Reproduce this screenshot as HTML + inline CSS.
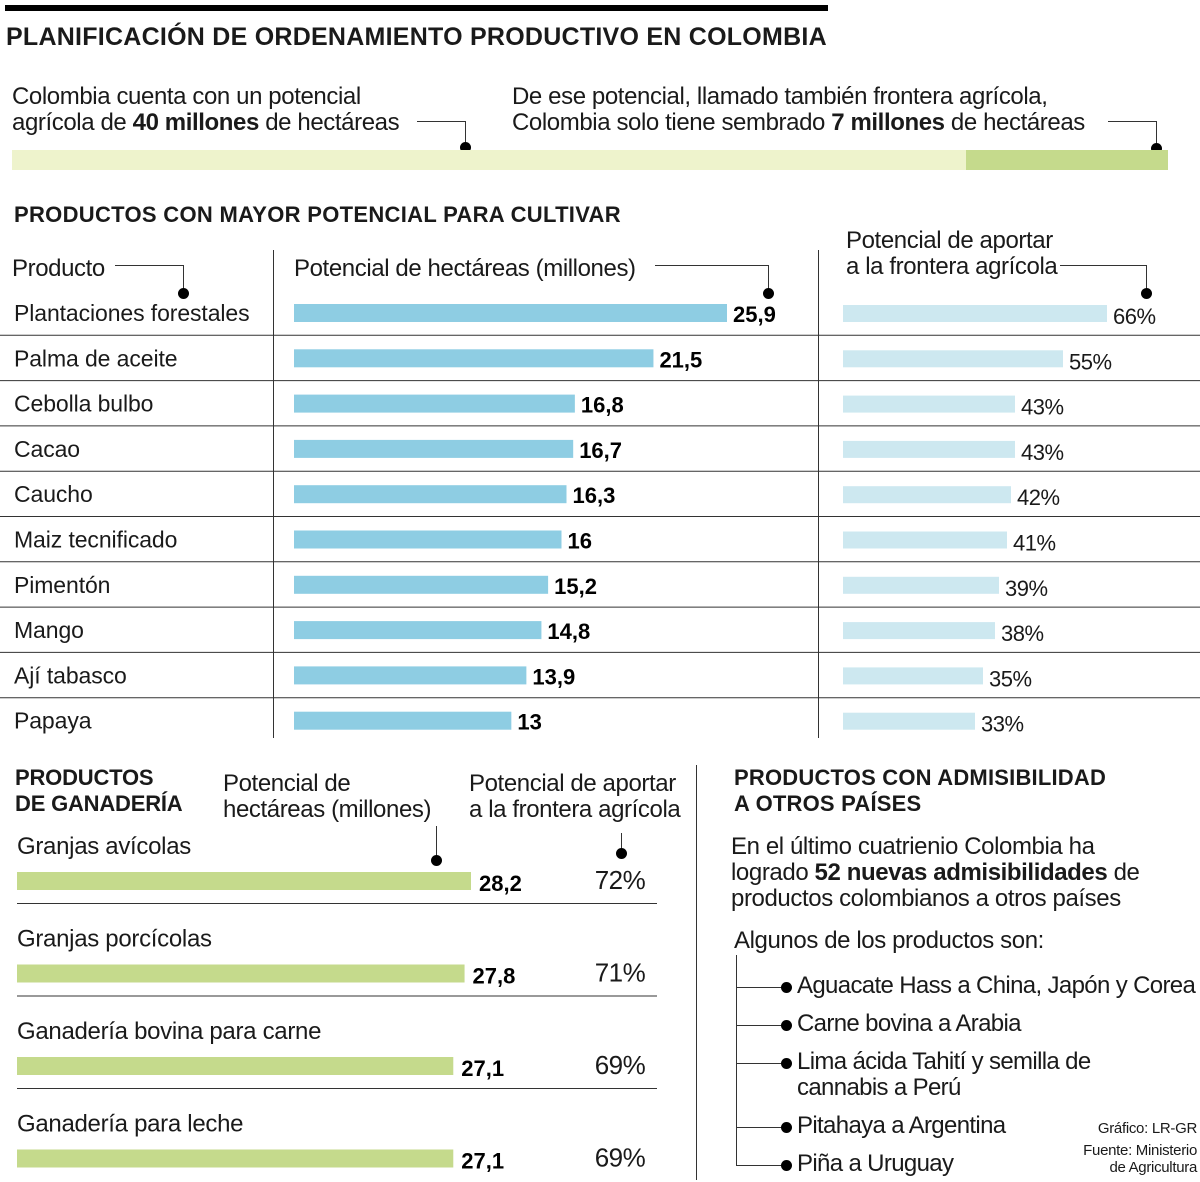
<!DOCTYPE html>
<html><head><meta charset="utf-8">
<style>
*{margin:0;padding:0;box-sizing:border-box}
body{width:1200px;height:1182px;background:#fff;position:relative;overflow:hidden;font-family:"Liberation Sans",sans-serif;color:#1a1a1a}
.a{position:absolute;white-space:nowrap}
.t{font-size:24px;line-height:26px;letter-spacing:-0.4px}
.h{font-weight:bold;font-size:23px;letter-spacing:-0.5px}
.ln{position:absolute;background:#333}
.dot{position:absolute;width:11px;height:11px;border-radius:50%;background:#000}
b{font-weight:bold}
</style></head><body>
<div class="ln" style="left:5px;top:5px;width:823px;height:6px;background:#000"></div>
<div class="a h" style="left:6px;top:23px;font-size:25px;letter-spacing:0.25px">PLANIFICACIÓN DE ORDENAMIENTO PRODUCTIVO EN COLOMBIA</div>

<div class="a t" style="left:12px;top:84px">Colombia cuenta con un potencial<br>agrícola de <b>40 millones</b> de hectáreas</div>
<div class="a t" style="left:512px;top:84px">De ese potencial, llamado también frontera agrícola,<br>Colombia solo tiene sembrado <b>7 millones</b> de hectáreas</div>
<div class="ln" style="left:417px;top:121px;width:48px;height:1px"></div>
<div class="ln" style="left:465px;top:121px;width:1px;height:24px"></div>
<div class="dot" style="left:460px;top:142px"></div>
<div class="ln" style="left:1108px;top:121px;width:49px;height:1px"></div>
<div class="ln" style="left:1156px;top:121px;width:1px;height:24px"></div>
<div class="dot" style="left:1151px;top:143px"></div>
<div class="a" style="left:12px;top:150px;width:1156px;height:20px;background:#eef3cc"></div>
<div class="a" style="left:966px;top:150px;width:202px;height:20px;background:#c5da8c"></div>

<div class="a h" style="left:14px;top:202px;font-size:22px;letter-spacing:0.3px">PRODUCTOS CON MAYOR POTENCIAL PARA CULTIVAR</div>
<div class="a t" style="left:12px;top:256px">Producto</div>
<div class="ln" style="left:115px;top:265px;width:68px;height:1px"></div>
<div class="ln" style="left:183px;top:265px;width:1px;height:25px"></div>
<div class="dot" style="left:178px;top:288px"></div>
<div class="a t" style="left:294px;top:256px">Potencial de hectáreas (millones)</div>
<div class="ln" style="left:655px;top:265px;width:113px;height:1px"></div>
<div class="ln" style="left:768px;top:265px;width:1px;height:25px"></div>
<div class="dot" style="left:763px;top:288px"></div>
<div class="a t" style="left:846px;top:228px;background:#fff">Potencial de aportar<br>a la frontera agrícola</div>
<div class="ln" style="left:1060px;top:265px;width:86px;height:1px"></div>
<div class="ln" style="left:1146px;top:265px;width:1px;height:25px"></div>
<div class="dot" style="left:1141px;top:288px"></div>
<div class="ln" style="left:273px;top:250px;width:1px;height:488px"></div>
<div class="ln" style="left:818px;top:250px;width:1px;height:488px"></div>
<svg id="crops" class="a" style="left:0;top:0" width="1200" height="760"></svg>

<div class="a h" style="left:15px;top:765px;line-height:26px;font-size:22px;letter-spacing:-0.2px">PRODUCTOS<br>DE GANADERÍA</div>
<div class="a t" style="left:223px;top:771px">Potencial de<br>hectáreas (millones)</div>
<div class="a t" style="left:469px;top:771px">Potencial de aportar<br>a la frontera agrícola</div>
<div class="ln" style="left:436px;top:826px;width:1px;height:30px"></div>
<div class="dot" style="left:431px;top:855px"></div>
<div class="ln" style="left:621px;top:833px;width:1px;height:16px"></div>
<div class="dot" style="left:616px;top:848px"></div>
<svg id="live" class="a" style="left:0;top:0" width="700" height="1182"></svg>

<div class="ln" style="left:696px;top:765px;width:1px;height:415px"></div>
<div class="a h" style="left:734px;top:765px;line-height:26px;font-size:22px;letter-spacing:0.2px">PRODUCTOS CON ADMISIBILIDAD<br>A OTROS PAÍSES</div>
<div class="a t" style="left:731px;top:834px">En el último cuatrienio Colombia ha<br>logrado <b>52 nuevas admisibilidades</b> de<br>productos colombianos a otros países</div>
<div class="a t" style="left:734px;top:928px">Algunos de los productos son:</div>
<div class="ln" style="left:736px;top:955px;width:1px;height:210px"></div>
<div id="list"></div>
<div class="a" style="left:1050px;top:1120px;font-size:15px;line-height:17px;text-align:right;width:147px;letter-spacing:-0.3px">Gráfico: LR-GR<br><span style="display:inline-block;margin-top:5px">Fuente: Ministerio<br>de Agricultura</span></div>

<script>
const crops=["Plantaciones forestales","Palma de aceite","Cebolla bulbo","Cacao","Caucho","Maiz tecnificado","Pimentón","Mango","Ají tabasco","Papaya"];
const hectares=[25.9,21.5,16.8,16.7,16.3,16,15.2,14.8,13.9,13];
const hectareLabels=["25,9","21,5","16,8","16,7","16,3","16","15,2","14,8","13,9","13"];
const frontier=[66,55,43,43,42,41,39,38,35,33];
const livestock=["Granjas avícolas","Granjas porcícolas","Ganadería bovina para carne","Ganadería para leche"];
const liveHectares=[28.2,27.8,27.1,27.1];
const liveLabels=["28,2","27,8","27,1","27,1"];
const liveFrontier=[72,71,69,69];
const exportsList=["Aguacate Hass a China, Japón y Corea","Carne bovina a Arabia","Lima ácida Tahití y semilla de|cannabis a Perú","Pitahaya a Argentina","Piña a Uruguay"];

const NS="http://www.w3.org/2000/svg";
const FF='"Liberation Sans",sans-serif';
function mk(svg,tag,at){const e=document.createElementNS(NS,tag);for(const k in at)e.setAttribute(k,at[k]);svg.appendChild(e);return e;}
const xH=v=>294+v*(433/25.9);
const xF=v=>843+v*4.0;
const rowY=i=>313+i*45.3;
const sv=document.getElementById('crops');
crops.forEach((c,i)=>{
  const y=rowY(i);
  if(i>0){const l=mk(sv,'line',{x1:0,x2:1200,y1:y-23,y2:y-23,stroke:'#333','stroke-width':1});
    
    }
  const t=mk(sv,'text',{x:14,y:y+8,'font-size':23,'letter-spacing':-0.1,'font-family':FF,fill:'#1a1a1a'});t.textContent=c;
  
  
  const r=mk(sv,'rect',{x:294,y:y-9,width:xH(hectares[i])-294,height:18,fill:'#8ecde3'});
  
  
  const v=mk(sv,'text',{x:xH(hectares[i])+6,y:y+9,'font-size':22,'font-weight':'bold','font-family':FF,fill:'#000'});v.textContent=hectareLabels[i];
  
  
  const f=mk(sv,'rect',{x:843,y:y-8,width:xF(frontier[i])-843,height:17,fill:'#cde8f0'});
  
  
  const p=mk(sv,'text',{x:xF(frontier[i])+6,y:y+11,'font-size':22,'letter-spacing':-0.5,'font-family':FF,fill:'#1a1a1a'});p.textContent=frontier[i]+'%';
  
  
});
const lv=document.getElementById('live');
const xL=v=>17+v*(454/28.2);
livestock.forEach((c,i)=>{
  const y=881+i*92.5;
  if(i>0){const l=mk(lv,'line',{x1:17,x2:657,y1:y-70,y2:y-70,stroke:'#333','stroke-width':1});
    
    }
  const t=mk(lv,'text',{x:17,y:y-27,'font-size':24,'letter-spacing':-0.3,'font-family':FF,fill:'#1a1a1a'});t.textContent=c;
  
  
  const r=mk(lv,'rect',{x:17,y:y-9,width:xL(liveHectares[i])-17,height:18,fill:'#c5da8c'});
  
  
  const v=mk(lv,'text',{x:xL(liveHectares[i])+8,y:y+10,'font-size':22,'font-weight':'bold','font-family':FF,fill:'#000'});v.textContent=liveLabels[i];
  
  
  const p=mk(lv,'text',{x:620,y:y+8,'text-anchor':'middle','font-size':26,'letter-spacing':-0.5,'font-family':FF,fill:'#1a1a1a'});p.textContent=liveFrontier[i]+'%';
  
  
});
const list=document.getElementById('list');
const ys=[987,1025,1063,1127,1165];
exportsList.forEach((s,i)=>{
  const y=ys[i];
  const ln=document.createElement('div');ln.className='ln';ln.style.cssText=`left:736px;top:${y}px;width:48px;height:1px`;list.appendChild(ln);
  const d=document.createElement('div');d.className='dot';d.style.cssText=`left:781px;top:${y-5}px`;list.appendChild(d);
  const t=document.createElement('div');t.className='a t';t.style.cssText=`left:797px;top:${y-14}px;letter-spacing:-0.65px`;
  t.innerHTML=s.replace('|','<br>');
  
  
  list.appendChild(t);
});
</script>
</body></html>
